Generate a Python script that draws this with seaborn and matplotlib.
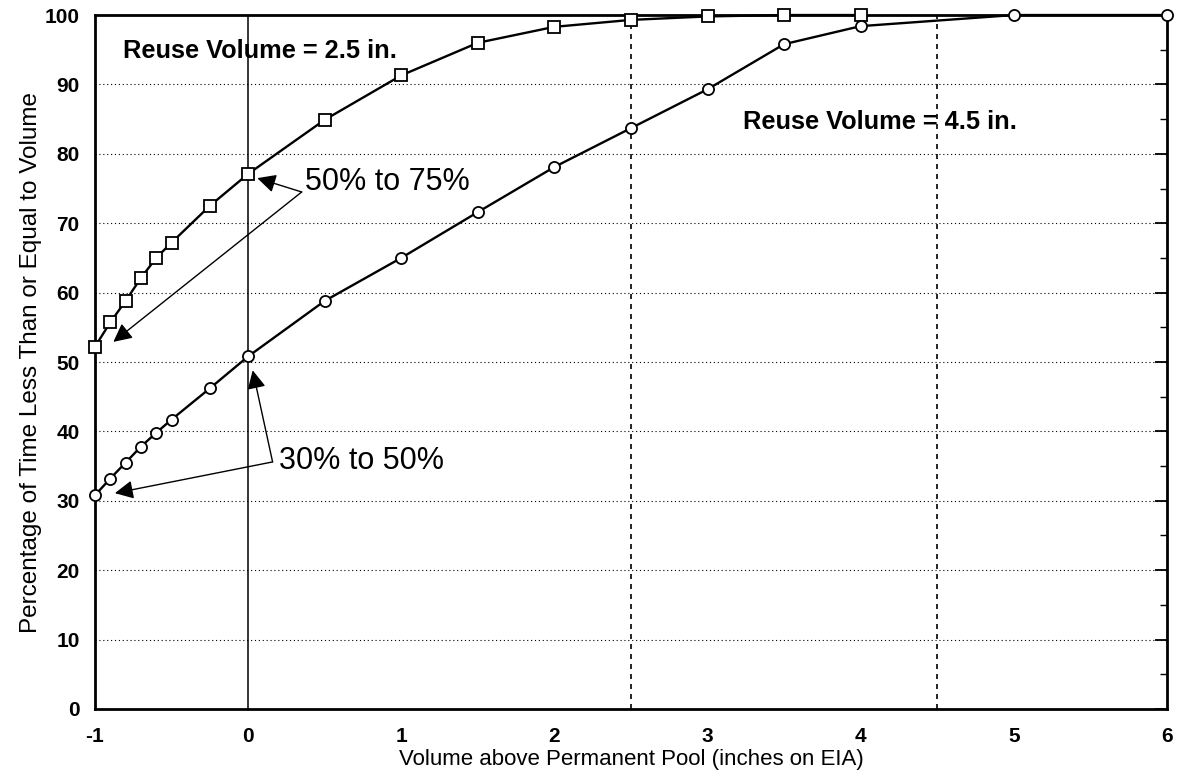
import matplotlib
matplotlib.use("Agg")
import matplotlib.pyplot as plt
import seaborn as sns
import pandas as pd
from matplotlib.ticker import MultipleLocator

# Storage volume above the permanent pool (inches on EIA)
vol_25 = [-1, -0.9, -0.8, -0.7, -0.6, -0.5, -0.25, 0, 0.5, 1, 1.5, 2, 2.5, 3, 3.5, 4]
pct_25 = [52.2, 55.7, 58.8, 62.1, 65.0, 67.2, 72.5, 77.1, 84.9, 91.3, 96.0, 98.3, 99.3, 99.8, 100, 100]

vol_45 = [-1, -0.9, -0.8, -0.7, -0.6, -0.5, -0.25, 0, 0.5, 1, 1.5, 2, 2.5, 3, 3.5, 4, 5, 6]
pct_45 = [30.8, 33.2, 35.5, 37.8, 39.8, 41.7, 46.2, 50.8, 58.8, 65.0, 71.6, 78.1, 83.7, 89.3, 95.8, 98.4, 100, 100]

reuse_lines = [2.5, 4.5]
x_ticks = [-1, 0, 1, 2, 3, 4, 5, 6]
y_ticks = [0, 10, 20, 30, 40, 50, 60, 70, 80, 90, 100]

df25 = pd.DataFrame({"vol": vol_25, "pct": pct_25})
df45 = pd.DataFrame({"vol": vol_45, "pct": pct_45})

sns.set_theme(style="white")
plt.rcParams["font.family"] = ["Liberation Sans", "DejaVu Sans"]
plt.rcParams["text.color"] = "black"
plt.rcParams["axes.labelcolor"] = "black"
plt.rcParams["xtick.color"] = "black"
plt.rcParams["ytick.color"] = "black"

fig = plt.figure(figsize=(11.81, 7.79), dpi=100)
ax = fig.add_axes([0.0804, 0.0899, 0.9077, 0.8908])

# horizontal dotted grid
for yv in y_ticks[1:-1]:
    ax.axhline(yv, color="black", lw=0.8, ls=(0, (1, 2.5)), zorder=1)

ax.axvline(0, color="black", lw=1.1, zorder=1)
for xv in reuse_lines:
    ax.axvline(xv, color="black", lw=1.2, ls=(0, (3, 3)), zorder=1)

common = dict(color="black", lw=1.7, markersize=8, markerfacecolor="white",
              markeredgecolor="black", markeredgewidth=1.3, sort=False,
              estimator=None, clip_on=False, zorder=3)
sns.lineplot(data=df25, x="vol", y="pct", marker="s", ax=ax, **common)
sns.lineplot(data=df45, x="vol", y="pct", marker="o", ax=ax, **common)

ax.set_xlim(-1, 6)
ax.set_ylim(0, 100)
ax.set_xticks(x_ticks)
ax.set_yticks(y_ticks)
ax.set_xticklabels([str(v) for v in x_ticks])
ax.set_yticklabels([str(v) for v in y_ticks])
ax.xaxis.set_minor_locator(MultipleLocator(0.5))
ax.yaxis.set_minor_locator(MultipleLocator(5))
ax.tick_params(axis="both", which="major", direction="in", length=9, width=1.3,
               labelsize=15, top=False, right=True)
ax.tick_params(axis="x", which="major", pad=13)
ax.tick_params(axis="y", which="major", pad=11)
ax.tick_params(axis="both", which="minor", direction="in", length=5, width=1.0,
               top=False, right=True)
for lab in ax.get_xticklabels() + ax.get_yticklabels():
    lab.set_fontweight("bold")

for sp in ax.spines.values():
    sp.set_color("black")
    sp.set_linewidth(2.0)

ax.set_xlabel("Volume above Permanent Pool (inches on EIA)", fontsize=16, labelpad=2)
ax.set_ylabel("Percentage of Time Less Than or Equal to Volume", fontsize=17.5, labelpad=2)

ax.text(-0.82, 94.8, "Reuse Volume = 2.5 in.", fontsize=18.3, fontweight="bold",
        va="center", ha="left")
ax.text(3.23, 84.6, "Reuse Volume = 4.5 in.", fontsize=18.3, fontweight="bold",
        va="center", ha="left")

arrow = dict(arrowstyle="-|>", color="black", lw=1.0, mutation_scale=28,
             shrinkA=0, shrinkB=0)
ax.text(0.37, 76.0, "50% to 75%", fontsize=22, va="center", ha="left")
ax.annotate("", xy=(0.06, 76.5), xytext=(0.35, 74.5), arrowprops=arrow)
ax.annotate("", xy=(-0.88, 52.9), xytext=(0.35, 74.5), arrowprops=arrow)

ax.text(0.2, 35.8, "30% to 50%", fontsize=22, va="center", ha="left")
ax.annotate("", xy=(0.03, 48.8), xytext=(0.16, 35.6), arrowprops=arrow)
ax.annotate("", xy=(-0.87, 31.1), xytext=(0.16, 35.6), arrowprops=arrow)

fig.savefig("out.png", dpi=100, facecolor="white")
